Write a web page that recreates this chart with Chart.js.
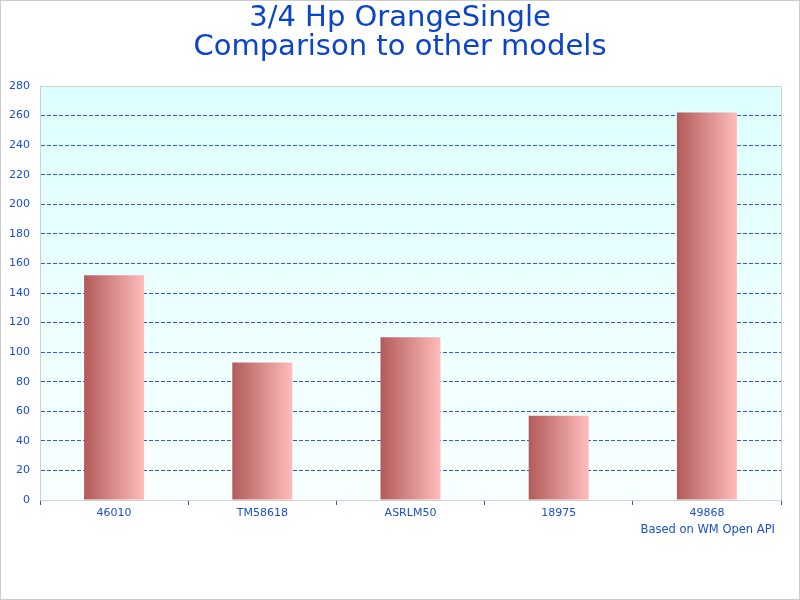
<!DOCTYPE html>
<html>
<head>
<meta charset="utf-8">
<script src="https://cdn.jsdelivr.net/npm/chart.js@4/dist/chart.umd.min.js"></script>
<style>
html,body{margin:0;padding:0;background:#fff;}
#wrap{width:800px;height:600px;position:relative;}
</style>
</head>
<body>
<div id="wrap"><canvas id="c" width="800" height="600"></canvas></div>
<script>
const categories = ["46010", "TM58618", "ASRLM50", "18975", "49868"];
const values = [152, 93, 110, 57, 262];
const titleLines = ["3/4 Hp OrangeSingle", "Comparison to other models"];
const footerText = "Based on WM Open API";
const yMin = 0, yMax = 280, yStep = 20;

const BLUE = '#0b44c8';
const TICKBLUE = '#1a4fd0';
const GRIDBLUE = '#2a5bd7';
const BORDER = '#d0d0d0';
const BAR_PCT = 0.405;

const framePlugin = {
  id: 'frame',
  beforeDraw(chart) {
    const ctx = chart.ctx, a = chart.chartArea;
    ctx.save();
    ctx.fillStyle = '#ffffff';
    ctx.fillRect(0, 0, chart.width, chart.height);
    const g = ctx.createLinearGradient(0, a.top, 0, a.bottom);
    g.addColorStop(0, '#ddffff');
    g.addColorStop(1, '#f9ffff');
    ctx.fillStyle = g;
    ctx.fillRect(a.left, a.top, a.right - a.left, a.bottom - a.top);
    ctx.restore();
  },
  afterDraw(chart) {
    const ctx = chart.ctx, a = chart.chartArea;
    ctx.save();
    ctx.strokeStyle = BORDER;
    ctx.lineWidth = 1;
    ctx.beginPath();
    ctx.moveTo(a.left, a.top + 0.5);
    ctx.lineTo(a.right + 0.5, a.top + 0.5);
    ctx.lineTo(a.right + 0.5, a.bottom);
    ctx.stroke();
    ctx.strokeStyle = '#cccccc';
    ctx.strokeRect(0.5, 0.5, chart.width - 1, chart.height - 1);
    ctx.fillStyle = TICKBLUE;
    ctx.font = '11.5px "DejaVu Sans"';
    ctx.textAlign = 'right';
    ctx.textBaseline = 'middle';
    ctx.fillText(footerText, 775, 530);
    ctx.restore();
  }
};

new Chart(document.getElementById('c'), {
  type: 'bar',
  data: {
    labels: categories,
    datasets: [{
      data: values,
      barPercentage: BAR_PCT,
      categoryPercentage: 1,
      borderWidth: 0,
      backgroundColor: (ctx) => {
        const chart = ctx.chart, a = chart.chartArea;
        if (!a) return '#d88';
        const xs = chart.scales.x;
        const cx = xs.getPixelForValue(ctx.dataIndex);
        const w = (a.right - a.left) / categories.length * BAR_PCT;
        const g = chart.ctx.createLinearGradient(cx - w / 2, 0, cx + w / 2, 0);
        g.addColorStop(0, '#b35a5a');
        g.addColorStop(1, '#ffbcbc');
        return g;
      }
    }]
  },
  options: {
    responsive: false,
    animation: false,
    devicePixelRatio: 1,
    layout: { padding: { left: 0, right: 0, top: 0, bottom: 78 } },
    plugins: {
      legend: { display: false },
      tooltip: { enabled: false },
      title: {
        display: true,
        text: titleLines,
        color: BLUE,
        font: { family: 'DejaVu Sans', size: 29, weight: 'normal', lineHeight: 1.0 },
        padding: { top: 4, bottom: 24 }
      }
    },
    scales: {
      x: {
        afterFit(s) { s.height = 22; },
        grid: {
          offset: true,
          drawOnChartArea: false,
          drawTicks: true,
          tickLength: 5,
          color: GRIDBLUE
        },
        border: { display: true, color: BORDER, width: 1 },
        ticks: {
          color: TICKBLUE,
          font: { family: 'DejaVu Sans', size: 11 },
          padding: 2,
          maxRotation: 0
        }
      },
      y: {
        min: yMin,
        max: yMax,
        afterFit(s) { s.width = 40; },
        grid: {
          drawTicks: false,
          color: (c) => (c.tick && (c.tick.value === yMin || c.tick.value === yMax)) ? 'rgba(0,0,0,0)' : GRIDBLUE,
          lineWidth: 1
        },
        border: { display: true, color: BORDER, width: 1, dash: [4, 2] },
        ticks: {
          stepSize: yStep,
          color: TICKBLUE,
          font: { family: 'DejaVu Sans', size: 11 },
          padding: 10
        }
      },
      ySpacer: {
        type: 'linear',
        position: 'right',
        display: true,
        afterFit(s) { s.width = 19; },
        grid: { display: false, drawOnChartArea: false },
        border: { display: false },
        ticks: { display: false }
      }
    }
  },
  plugins: [framePlugin]
});
</script>
</body>
</html>
